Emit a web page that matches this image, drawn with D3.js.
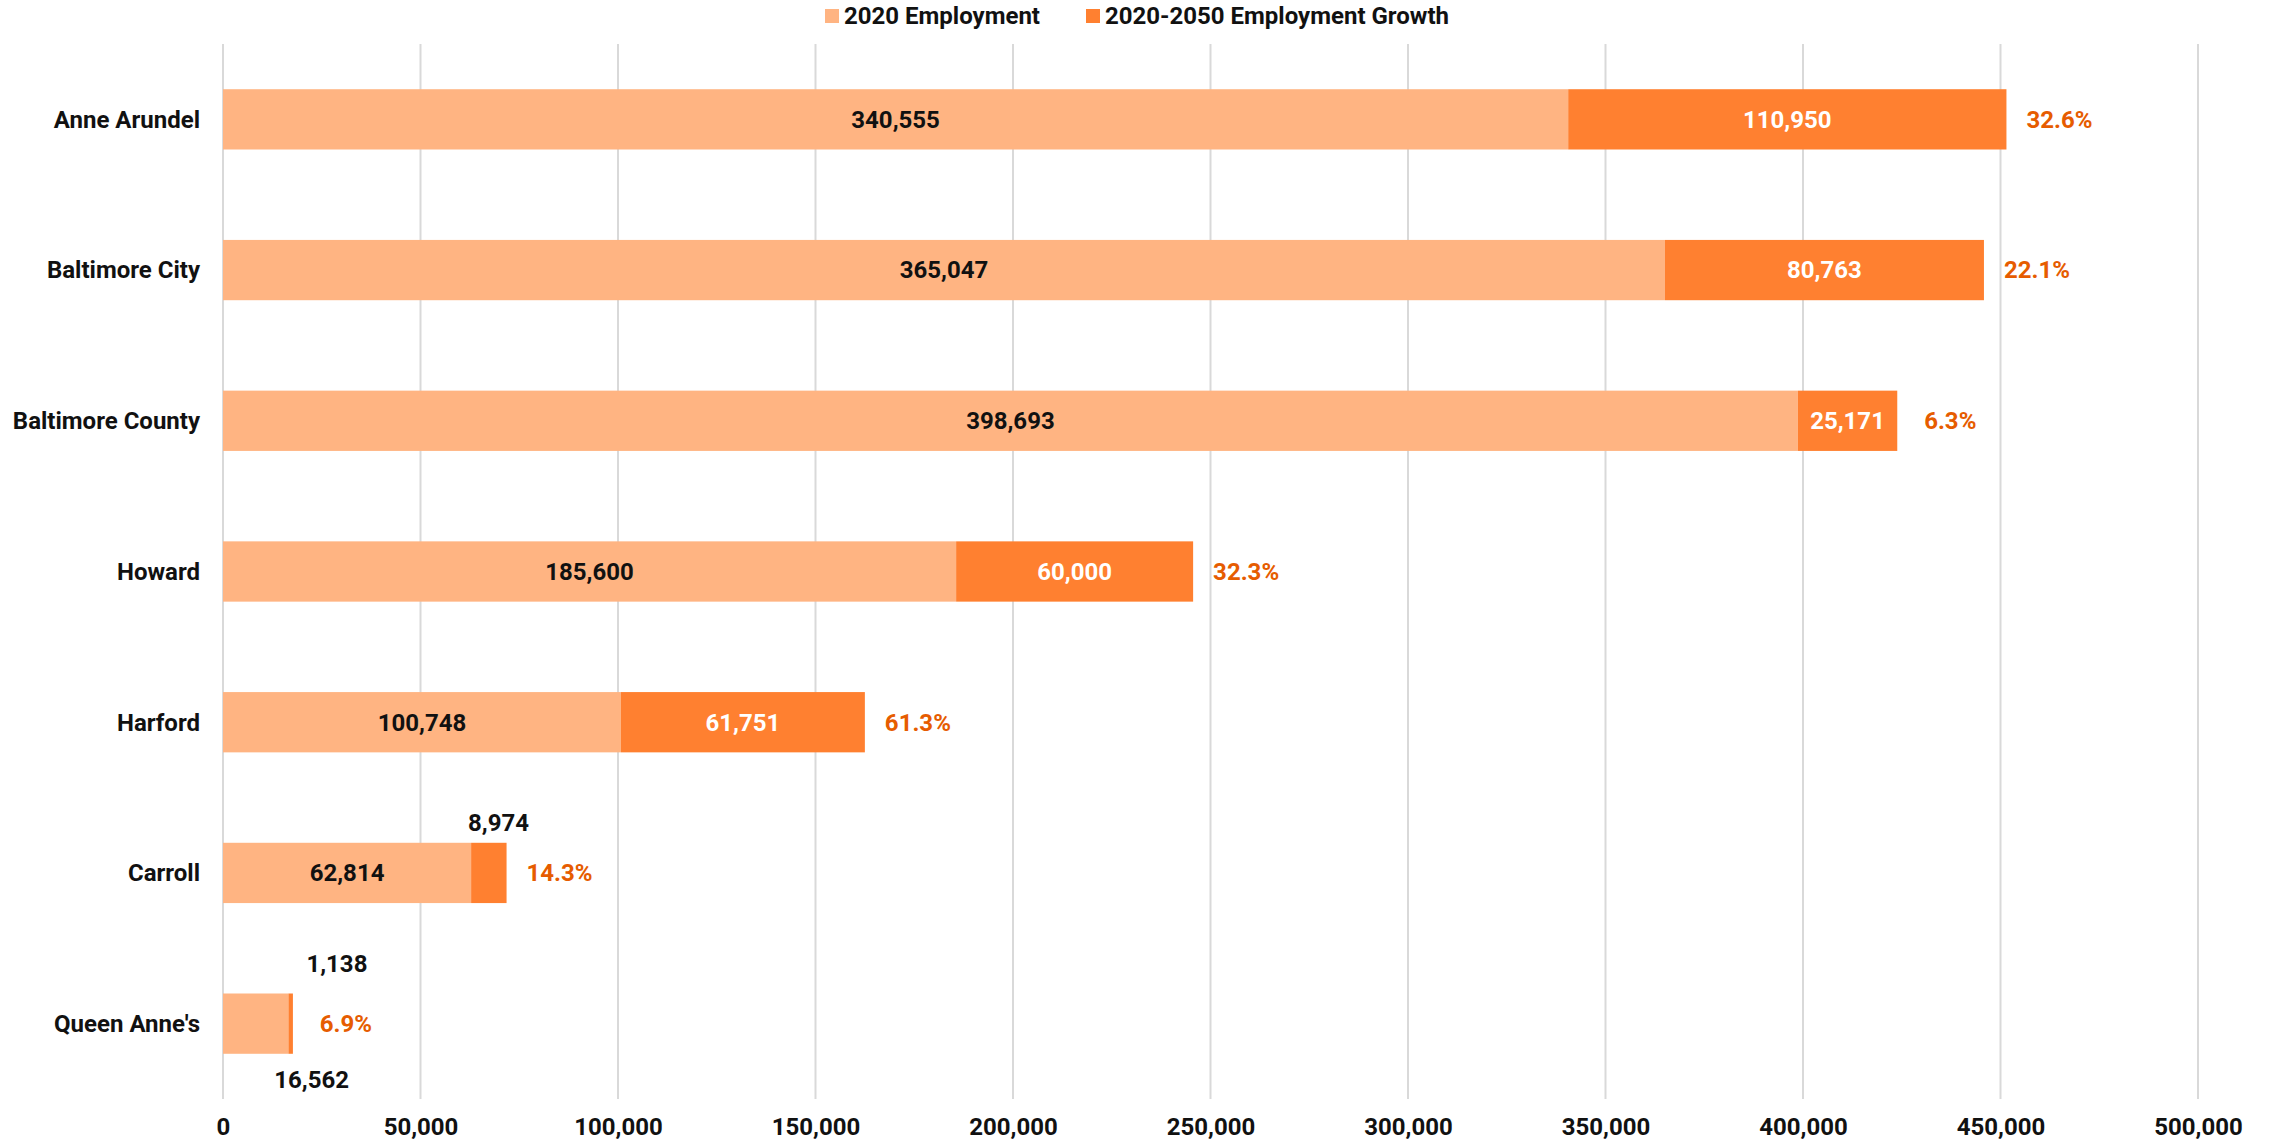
<!DOCTYPE html>
<html>
<head>
<meta charset="utf-8">
<script src="https://cdn.jsdelivr.net/npm/d3@7"></script>
<style>
  html, body { margin: 0; padding: 0; background: #ffffff; }
  svg { display: block; }
  text { font-family: Roboto, "Noto Sans", sans-serif; font-weight: 700; }
</style>
</head>
<body>
<svg id="chart" width="2274" height="1142"></svg>
<script>
// ---- data ----
const categories = ["Anne Arundel", "Baltimore City", "Baltimore County", "Howard", "Harford", "Carroll", "Queen Anne's"];
const employment2020 = [340555, 365047, 398693, 185600, 100748, 62814, 16562];
const employmentGrowth = [110950, 80763, 25171, 60000, 61751, 8974, 1138];
const seriesNames = ["2020 Employment", "2020-2050 Employment Growth"];
const xTicks = [0, 50000, 100000, 150000, 200000, 250000, 300000, 350000, 400000, 450000, 500000];

// ---- layout / style ----
const W = 2274, H = 1142;
const plot = { left: 223, right: 2198, top: 44, bottom: 1099 };
const colors = { base: "#FFB482", growth: "#FF8030", pct: "#E65C00", grid: "#D9D9D9", text: "#111111" };
const fs = 24;

const svg = d3.select("#chart");

const x = d3.scaleLinear().domain([0, 500000]).range([plot.left, plot.right]);
const y = d3.scaleBand().domain(categories).range([plot.top, plot.bottom]).paddingInner(0.6).paddingOuter(0.3);

const fmt = d3.format(",");
const pctFmt = d3.format(".1%");

const rows = categories.map((c, i) => ({
  cat: c, i,
  base: employment2020[i],
  growth: employmentGrowth[i],
  total: employment2020[i] + employmentGrowth[i],
  pct: employmentGrowth[i] / employment2020[i]
}));

// grid lines
svg.append("g").selectAll("line").data(xTicks).join("line")
  .attr("x1", d => x(d)).attr("x2", d => x(d))
  .attr("y1", plot.top).attr("y2", plot.bottom)
  .attr("stroke", colors.grid).attr("stroke-width", 2);

// x axis labels
const xAxis = d3.axisBottom(x).tickValues(xTicks).tickFormat(fmt).tickSize(0).tickPadding(0);
const gx = svg.append("g").attr("transform", `translate(0, ${plot.bottom + 36})`).call(xAxis);
gx.select(".domain").remove();
gx.selectAll("text").attr("font-size", fs).attr("fill", colors.text)
  .attr("font-family", "Roboto, sans-serif").attr("font-weight", 700).attr("dy", 0);

// y axis labels
const yAxis = d3.axisLeft(y).tickSize(0).tickPadding(0);
const gy = svg.append("g").attr("transform", `translate(${plot.left - 23}, 0)`).call(yAxis);
gy.select(".domain").remove();
gy.selectAll("text").attr("font-size", fs).attr("fill", colors.text)
  .attr("font-family", "Roboto, sans-serif").attr("font-weight", 700).attr("dy", "0.35em");

// bars
const bars = svg.append("g");
bars.selectAll("rect.base").data(rows).join("rect").attr("class", "base")
  .attr("x", d => x(0)).attr("y", d => y(d.cat))
  .attr("width", d => x(d.base) - x(0)).attr("height", y.bandwidth())
  .attr("fill", colors.base);
bars.selectAll("rect.growth").data(rows).join("rect").attr("class", "growth")
  .attr("x", d => x(d.base)).attr("y", d => y(d.cat))
  .attr("width", d => x(d.total) - x(d.base)).attr("height", y.bandwidth())
  .attr("fill", colors.growth);

// value label placement (outside labels for narrow segments)
const outside = {
  "Carroll|growth": { dx: -8, dy: -20 },
  "Queen Anne's|growth": { dx: 44, dy: -30 },
  "Queen Anne's|base": { dx: 56, dy: 26 }
};

const labels = svg.append("g");
rows.forEach(d => {
  const yc = y(d.cat) + y.bandwidth() / 2;
  const top = y(d.cat), bot = y(d.cat) + y.bandwidth();
  // base label
  let key = d.cat + "|base";
  if (outside[key]) {
    const o = outside[key];
    labels.append("text").attr("x", (x(0) + x(d.base)) / 2 + o.dx).attr("y", bot + o.dy)
      .attr("dy", "0.35em").attr("text-anchor", "middle").attr("font-size", fs).attr("fill", colors.text)
      .text(fmt(d.base));
  } else {
    labels.append("text").attr("x", (x(0) + x(d.base)) / 2).attr("y", yc)
      .attr("dy", "0.35em").attr("text-anchor", "middle").attr("font-size", fs).attr("fill", colors.text)
      .text(fmt(d.base));
  }
  // growth label
  key = d.cat + "|growth";
  if (outside[key]) {
    const o = outside[key];
    labels.append("text").attr("x", x(d.total) + o.dx).attr("y", top + o.dy)
      .attr("dy", "0.35em").attr("text-anchor", "middle").attr("font-size", fs).attr("fill", colors.text)
      .text(fmt(d.growth));
  } else {
    labels.append("text").attr("x", (x(d.base) + x(d.total)) / 2).attr("y", yc)
      .attr("dy", "0.35em").attr("text-anchor", "middle").attr("font-size", fs).attr("fill", "#ffffff")
      .text(fmt(d.growth));
  }
  // percent label
  labels.append("text").attr("x", x(d.total) + 53).attr("y", yc)
    .attr("dy", "0.35em").attr("text-anchor", "middle").attr("font-size", fs).attr("fill", colors.pct)
    .text(pctFmt(d.pct));
});

// legend
const legend = svg.append("g");
const legendItems = [
  { name: seriesNames[0], color: colors.base, x: 825 },
  { name: seriesNames[1], color: colors.growth, x: 1086 }
];
legendItems.forEach(it => {
  legend.append("rect").attr("x", it.x).attr("y", 9).attr("width", 14).attr("height", 14).attr("fill", it.color);
  legend.append("text").attr("x", it.x + 19).attr("y", 16).attr("dy", "0.35em")
    .attr("font-size", 24).attr("fill", colors.text).text(it.name);
});
</script>
</body>
</html>
